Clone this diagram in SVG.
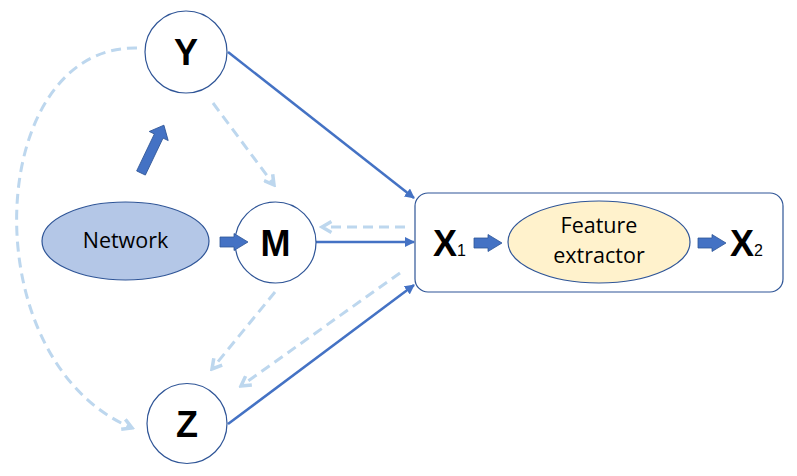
<svg xmlns="http://www.w3.org/2000/svg" width="797" height="476" viewBox="0 0 797 476">
<defs>
<marker id="tri" viewBox="0 0 10 10" refX="9" refY="5" markerWidth="4" markerHeight="4" orient="auto" markerUnits="strokeWidth">
<path d="M0,0 L10,5 L0,10 Z" fill="#4472C4"/>
</marker>
<marker id="chev" viewBox="0 0 10 10" refX="8" refY="5" markerWidth="4.5" markerHeight="4.5" orient="auto" markerUnits="strokeWidth">
<path d="M1,1 L8,5 L1,9" fill="none" stroke="#BDD7EE" stroke-width="2.6" stroke-linejoin="miter"/>
</marker>
<path id="blk" d="M0,-5 L14,-5 L14,-8.5 L28,0 L14,8.5 L14,5 L0,5 Z"/>
</defs>
<style>
.node{fill:#fff;stroke:#2F5597;stroke-width:1.2}
.lbl{font-family:"Liberation Sans",Arial,sans-serif;font-weight:bold;font-size:36px;text-anchor:middle;fill:#000}
.txt{font-family:"Open Sans","Liberation Sans",sans-serif;font-size:21.5px;text-anchor:middle;fill:#000}
.solid{fill:none;stroke:#4472C4;stroke-width:2.5;marker-end:url(#tri)}
.dash{fill:none;stroke:#BDD7EE;stroke-width:3;stroke-dasharray:10 6;marker-end:url(#chev)}
.barrow{fill:#4472C4;stroke:#2F5597;stroke-width:0.8}
</style>
<g id="connectors">
<line class="solid" x1="228" y1="52" x2="414" y2="198"/>
<line class="solid" x1="316" y1="242" x2="414" y2="242"/>
<line class="solid" x1="228" y1="424" x2="414" y2="285"/>
<line class="dash" x1="405" y1="227" x2="322" y2="227"/>
<line class="dash" x1="213" y1="103" x2="274" y2="185"/>
<line class="dash" x1="275" y1="292" x2="212" y2="369"/>
<line class="dash" x1="400" y1="273" x2="241" y2="386"/>
<path class="dash" d="M137,48 C-15,45 -30,360 132,428"/>
</g>
<g id="Y">
<circle class="node" cx="186" cy="52" r="41"/>
<text class="lbl" x="186" y="65">Y</text>
</g>
<g id="M">
<circle class="node" cx="275.5" cy="242.5" r="40.5"/>
<text class="lbl" x="275.5" y="256">M</text>
</g>
<g id="Z">
<circle class="node" cx="187" cy="423.5" r="40"/>
<text class="lbl" x="187" y="437">Z</text>
</g>
<g id="Network">
<ellipse cx="125.5" cy="241" rx="83.5" ry="39" fill="#B4C7E7" stroke="#2F5597" stroke-width="1.2"/>
<text class="txt" x="125.5" y="248">Network</text>
</g>
<g id="arrow-network-M">
<use href="#blk" class="barrow" transform="translate(220,242)"/>
</g>
<g id="arrow-to-Y">
<path class="barrow" d="M0,-4.8 L41,-4.8 L41,-10.5 L53,0 L41,10.5 L41,4.8 L0,4.8 Z" transform="translate(141,173) rotate(-64.4)"/>
</g>
<g id="box">
<rect x="415" y="193" width="368" height="99" rx="13" fill="#fff" stroke="#2F5597" stroke-width="1.2"/>
<text class="lbl" x="433" y="256" style="text-anchor:start">X<tspan font-size="16" font-weight="normal">1</tspan></text>
<use href="#blk" class="barrow" transform="translate(474,243)"/>
<g id="FeatureExtractor">
<ellipse cx="599" cy="242" rx="91" ry="41" fill="#FFF2CC" stroke="#2F5597" stroke-width="1.2"/>
<text class="txt" x="599" y="233">Feature</text>
<text class="txt" x="599" y="263">extractor</text>
</g>
<use href="#blk" class="barrow" transform="translate(698,243)"/>
<text class="lbl" x="730" y="256" style="text-anchor:start">X<tspan font-size="16" font-weight="normal">2</tspan></text>
</g>
</svg>
